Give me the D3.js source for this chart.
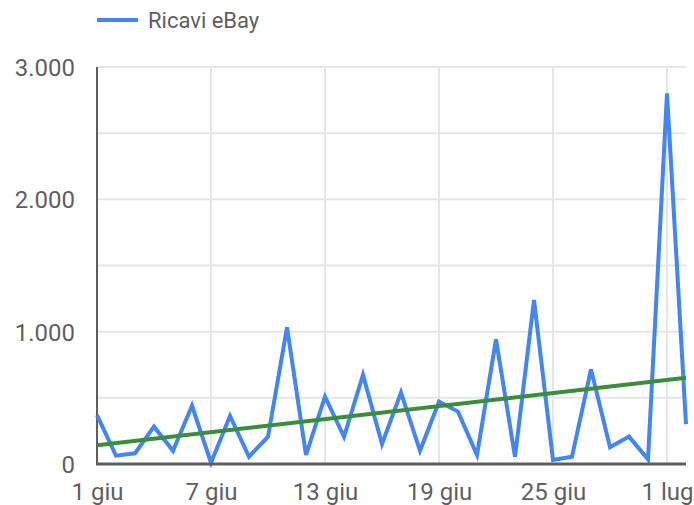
<!DOCTYPE html>
<html>
<head>
<meta charset="utf-8">
<script src="https://cdn.jsdelivr.net/npm/d3@7"></script>
<style>
  body { margin: 0; background: #fff; }
  svg { font-family: Roboto, Arial, sans-serif; }
  .lbl { fill: #5f5f5f; font-size: 24px; }
  .legend { fill: #5f5f5f; font-size: 22px; }
</style>
</head>
<body>
<svg id="chart" width="694" height="505"></svg>
<script>
// daily revenue, 1 giu -> 2 lug
var days = d3.range(32).map(function(i) { return new Date(2023, 5, 1 + i); });
var ricavi = [370, 63, 81, 282, 100, 440, 10, 363, 55, 206, 1033, 68, 509, 206, 673, 151,
              540, 100, 471, 396, 68, 942, 55, 1240, 30, 55, 715, 126, 207, 35, 2800, 302];
var xTicks = [new Date(2023, 5, 1), new Date(2023, 5, 7), new Date(2023, 5, 13),
              new Date(2023, 5, 19), new Date(2023, 5, 25), new Date(2023, 6, 1)];
var xTickLabels = ["1 giu", "7 giu", "13 giu", "19 giu", "25 giu", "1 lug"];
var yTicks = [0, 1000, 2000, 3000];
var yTickLabels = ["0", "1.000", "2.000", "3.000"];
var yMinor = [500, 1500, 2500];
var seriesName = "Ricavi eBay";

var svg = d3.select("#chart");
var pLeft = 97, pRight = 686, pTop = 67, pBottom = 464;

var x = d3.scaleTime()
  .domain([days[0], days[days.length - 1]])
  .range([pLeft, pRight]);
var y = d3.scaleLinear()
  .domain([0, 3000])
  .range([pBottom, pTop]);

// gridlines
var grid = svg.append("g");
grid.selectAll(".hg")
  .data(yTicks.concat(yMinor).filter(function(d) { return d > 0; }))
  .enter().append("line")
  .attr("x1", pLeft).attr("x2", pRight)
  .attr("y1", function(d) { return y(d); })
  .attr("y2", function(d) { return y(d); })
  .attr("stroke", "#e6e6e6").attr("stroke-width", 2);
grid.selectAll(".vg")
  .data(xTicks.slice(1))
  .enter().append("line")
  .attr("x1", function(d) { return x(d); })
  .attr("x2", function(d) { return x(d); })
  .attr("y1", pTop).attr("y2", pBottom)
  .attr("stroke", "#e6e6e6").attr("stroke-width", 2);

// axes (labels only, lines drawn separately)
var yAxis = svg.append("g")
  .attr("transform", "translate(" + pLeft + ",0)")
  .call(d3.axisLeft(y).tickValues(yTicks)
    .tickFormat(function(d, i) { return yTickLabels[i]; })
    .tickSize(0).tickPadding(22));
yAxis.select(".domain").remove();
yAxis.attr("font-size", null).attr("font-family", null);
yAxis.selectAll("text").attr("class", "lbl").attr("fill", null).attr("dy", "0.36em");

var xAxis = svg.append("g")
  .attr("transform", "translate(0," + pBottom + ")")
  .call(d3.axisBottom(x).tickValues(xTicks)
    .tickFormat(function(d, i) { return xTickLabels[i]; })
    .tickSize(0).tickPadding(19));
xAxis.select(".domain").remove();
xAxis.attr("font-size", null).attr("font-family", null);
xAxis.selectAll("text").attr("class", "lbl").attr("fill", null);

// left baseline
svg.append("line")
  .attr("x1", pLeft).attr("x2", pLeft).attr("y1", pTop).attr("y2", pBottom)
  .attr("stroke", "#5f5f5f").attr("stroke-width", 2);

// trend line (least squares over the daily values)
var n = ricavi.length;
var mx = d3.mean(d3.range(n)), my = d3.mean(ricavi);
var sxy = d3.sum(ricavi, function(v, i) { return (i - mx) * (v - my); });
var sxx = d3.sum(d3.range(n), function(i) { return (i - mx) * (i - mx); });
var slope = sxy / sxx, icpt = my - slope * mx;

var line = d3.line()
  .x(function(d, i) { return x(days[i]); })
  .y(function(d) { return y(d); });

svg.append("path")
  .datum(ricavi)
  .attr("d", line)
  .attr("fill", "none")
  .attr("stroke", "#4285f4")
  .attr("stroke-width", 4)
  .attr("stroke-linejoin", "miter");

svg.append("path")
  .datum([icpt, icpt + slope * (n - 1)])
  .attr("d", d3.line()
    .x(function(d, i) { return i === 0 ? x(days[0]) : x(days[n - 1]); })
    .y(function(d) { return y(d); }))
  .attr("fill", "none")
  .attr("stroke", "#3b8c3b")
  .attr("stroke-width", 4);

svg.append("line")
  .attr("x1", pLeft - 1).attr("x2", pRight).attr("y1", pBottom).attr("y2", pBottom)
  .attr("stroke", "#5f5f5f").attr("stroke-width", 3);

// legend
var lg = svg.append("g").attr("transform", "translate(97,20)");
lg.append("line").attr("x1", 0).attr("x2", 41).attr("y1", 0).attr("y2", 0)
  .attr("stroke", "#4285f4").attr("stroke-width", 4);
lg.append("text").attr("class", "legend").attr("x", 51).attr("y", 8).text(seriesName);
</script>
</body>
</html>
